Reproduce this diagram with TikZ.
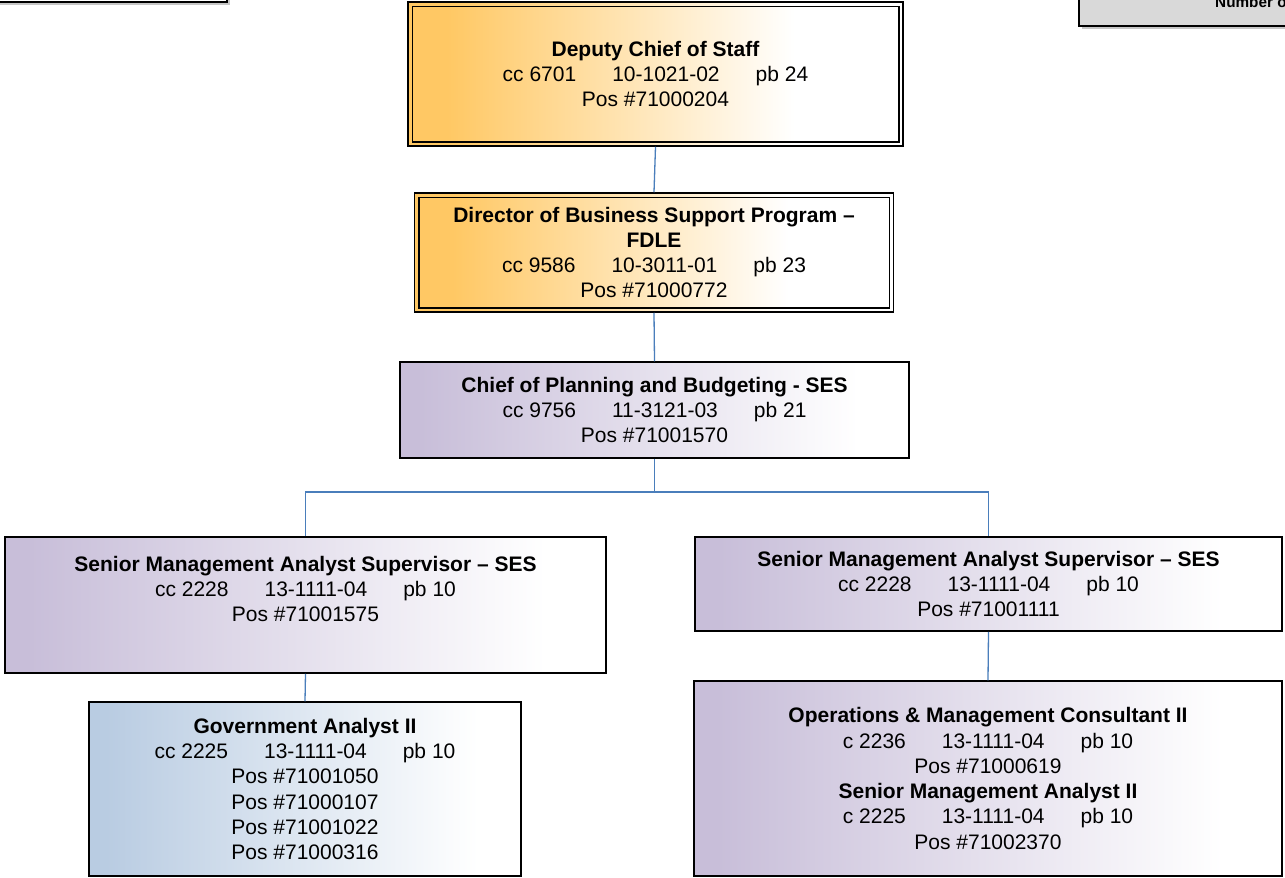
\documentclass[tikz,border=0pt]{standalone}
\usepackage{fontspec}
\setmainfont{Liberation Sans}
\usetikzlibrary{calc}

\definecolor{orgA}{HTML}{FFC864}
\definecolor{lavA}{HTML}{C8BED9}
\definecolor{bluA}{HTML}{B9CCE2}
\definecolor{linkblue}{HTML}{4A7EBB}
\definecolor{panelgray}{HTML}{D9D9D9}

% horizontal fades: solid colour on the left, white towards the right
\pgfdeclarehorizontalshading{orangefade}{100bp}{color(0bp)=(orgA); color(29bp)=(orgA); color(64bp)=(white); color(100bp)=(white)}
\pgfdeclarehorizontalshading{lavfade}{100bp}{color(0bp)=(lavA); color(27bp)=(lavA); color(70bp)=(white); color(100bp)=(white)}
\pgfdeclarehorizontalshading{bluefade}{100bp}{color(0bp)=(bluA); color(27bp)=(bluA); color(70bp)=(white); color(100bp)=(white)}

\newcommand{\tabsp}{\hspace{36pt}}

\begin{document}
\begin{tikzpicture}[x=1pt,y=-1pt,
  posbox/.style={draw=black, line width=1.5pt, inner sep=0pt, align=center,
     font=\fontsize{21}{25.3}\selectfont},
  execbox/.style={posbox, shading=orangefade},
  staffbox/.style={posbox, shading=lavfade},
  analystbox/.style={posbox, shading=bluefade},
  link/.style={draw=linkblue, line width=1.3pt}]

\clip (0,0) rectangle (1285,878);
\useasboundingbox (0,0) rectangle (1285,878);
\fill[white] (0,0) rectangle (1285,878);

% panels cut by the page edge
\fill[gray!45] (-20,-20) rectangle (230,5);
\draw[black, line width=2pt, fill=white] (-20,-20) rectangle (227,2);
\fill[gray!45] (1082,-20) rectangle (1300,29);
\draw[black, line width=2pt, fill=panelgray] (1079,-20) rectangle (1300,26);
\node[anchor=base west, font=\bfseries\fontsize{15.3}{18}\selectfont, inner sep=0pt] (count) at (1215,8) {Number of};

% executive level
\node[execbox, minimum width=495pt, minimum height=144pt] (dep) at (655.5,74)
  {\textbf{Deputy Chief of Staff}\\cc 6701\tabsp 10-1021-02\tabsp pb 24\\Pos \#71000204};
\draw[line width=1.5pt] ([shift={(5,5)}]dep.north west) rectangle ([shift={(-5,-5)}]dep.south east);

\node[execbox, minimum width=479pt, minimum height=119pt] (dir) at (654,252.5)
  {\textbf{Director of Business Support Program –}\\\textbf{FDLE}\\cc 9586\tabsp 10-3011-01\tabsp pb 23\\Pos \#71000772};
\draw[line width=1.5pt] ([shift={(5,5)}]dir.north west) rectangle ([shift={(-5,-5)}]dir.south east);

% planning and budgeting
\node[staffbox, minimum width=509pt, minimum height=96pt] (chief) at (654.5,410)
  {\textbf{Chief of Planning and Budgeting - SES}\\cc 9756\tabsp 11-3121-03\tabsp pb 21\\Pos \#71001570};

\node[staffbox, minimum width=601pt, minimum height=136pt] (smasL) at (305.5,605)
  {\textbf{Senior Management Analyst Supervisor – SES}\\cc 2228\tabsp 13-1111-04\tabsp pb 10\\Pos \#71001575\\[7pt]\mbox{}};

\node[staffbox, minimum width=587pt, minimum height=94pt] (smasR) at (988.5,584)
  {\textbf{Senior Management Analyst Supervisor – SES}\\cc 2228\tabsp 13-1111-04\tabsp pb 10\\Pos \#71001111};

\node[analystbox, minimum width=432pt, minimum height=174pt] (gov) at (305,789)
  {\textbf{Government Analyst II}\\cc 2225\tabsp 13-1111-04\tabsp pb 10\\Pos \#71001050\\Pos \#71000107\\Pos \#71001022\\Pos \#71000316};

\node[staffbox, minimum width=588pt, minimum height=195pt] (ops) at (988,778.5)
  {\textbf{Operations \& Management Consultant II}\\c 2236\tabsp 13-1111-04\tabsp pb 10\\Pos \#71000619\\\textbf{Senior Management Analyst II}\\c 2225\tabsp 13-1111-04\tabsp pb 10\\Pos \#71002370};

% reporting lines
\coordinate (split) at (chief.south |- 0,492);
\path[link] (dep.south) -- (dir.north);
\path[link] (dir.south) -- (chief.north);
\path[link] (chief.south) -- (split);
\path[link] (smasL.north) |- (split) -| (smasR.north);
\path[link] (smasL.south) -- (gov.north);
\path[link] (smasR.south) -- (ops.north);
\end{tikzpicture}
\end{document}
